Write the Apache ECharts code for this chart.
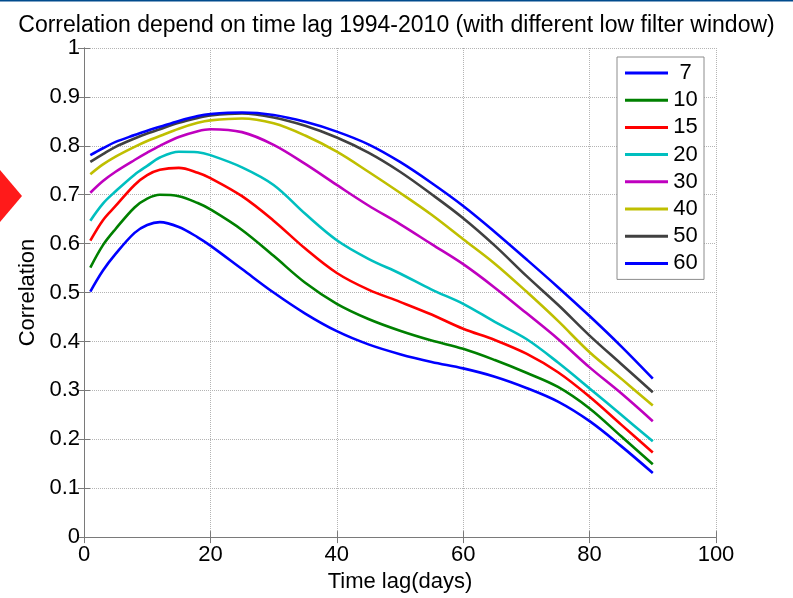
<!DOCTYPE html>
<html>
<head>
<meta charset="utf-8">
<script src="https://cdn.jsdelivr.net/npm/echarts@6/dist/echarts.min.js"></script>
<style>
  html, body { margin: 0; padding: 0; background: #fff; }
  #chart { width: 793px; height: 598px; }
</style>
</head>
<body>
<div id="chart"></div>
<script>
// Time lag in days (x positions of the sampled points)
const lags = [1, 3, 5, 8, 10, 12, 15, 18, 20, 25, 30, 35, 40, 45, 50, 55, 60, 65, 70, 75, 80, 85, 90];

// Correlation for each low-pass filter window
const win7  = [0.502, 0.545, 0.579, 0.622, 0.638, 0.644, 0.634, 0.613, 0.596, 0.548, 0.500, 0.457, 0.421, 0.394, 0.374, 0.358, 0.345, 0.328, 0.305, 0.277, 0.237, 0.186, 0.131];
const win10 = [0.551, 0.597, 0.630, 0.674, 0.692, 0.700, 0.697, 0.683, 0.670, 0.628, 0.575, 0.520, 0.477, 0.446, 0.422, 0.402, 0.385, 0.362, 0.336, 0.307, 0.263, 0.206, 0.149];
const win15 = [0.606, 0.648, 0.677, 0.720, 0.740, 0.751, 0.755, 0.745, 0.734, 0.697, 0.647, 0.590, 0.540, 0.506, 0.481, 0.455, 0.426, 0.403, 0.375, 0.337, 0.287, 0.230, 0.173];
const win20 = [0.647, 0.682, 0.707, 0.741, 0.759, 0.776, 0.788, 0.787, 0.781, 0.756, 0.720, 0.661, 0.607, 0.569, 0.539, 0.506, 0.477, 0.440, 0.405, 0.357, 0.304, 0.250, 0.196];
const win30 = [0.704, 0.728, 0.747, 0.771, 0.786, 0.800, 0.818, 0.830, 0.834, 0.828, 0.802, 0.763, 0.720, 0.678, 0.640, 0.599, 0.558, 0.510, 0.458, 0.405, 0.347, 0.294, 0.237];
const win40 = [0.742, 0.762, 0.778, 0.798, 0.810, 0.820, 0.835, 0.847, 0.852, 0.856, 0.846, 0.821, 0.788, 0.747, 0.704, 0.659, 0.609, 0.559, 0.502, 0.442, 0.378, 0.324, 0.269];
const win50 = [0.767, 0.783, 0.798, 0.815, 0.825, 0.834, 0.847, 0.857, 0.862, 0.866, 0.858, 0.841, 0.817, 0.786, 0.747, 0.701, 0.652, 0.596, 0.534, 0.475, 0.412, 0.354, 0.296];
const win60 = [0.781, 0.795, 0.808, 0.822, 0.831, 0.839, 0.851, 0.861, 0.865, 0.868, 0.863, 0.849, 0.829, 0.803, 0.767, 0.724, 0.677, 0.624, 0.568, 0.511, 0.452, 0.390, 0.324];

const seriesNames = ['7', '10', '15', '20', '30', '40', '50', '60'];
const seriesValues = [win7, win10, win15, win20, win30, win40, win50, win60];
const seriesColors = ['#0000ff', '#008000', '#ff0000', '#00bfbf', '#bf00bf', '#bfbf00', '#404040', '#0000ff'];

const FONT = 'Liberation Sans, Arial, Helvetica, sans-serif';
const frameColor = '#7a7a7a';
const gridColor = '#b4b4b4';

const chart = echarts.init(document.getElementById('chart'), null, { renderer: 'canvas' });

const series = seriesNames.map((name, k) => ({
  name: name,
  type: 'line',
  xAxisIndex: 0,
  yAxisIndex: 0,
  smooth: 0.35,
  symbol: 'none',
  showSymbol: false,
  lineStyle: { color: seriesColors[k], width: 2.6 },
  itemStyle: { color: seriesColors[k] },
  emphasis: { disabled: true },
  data: lags.map((x, i) => [x, seriesValues[k][i]])
}));

const boxAxis = {
  type: 'value',
  min: 0,
  axisLine: { show: true, lineStyle: { color: frameColor, width: 1 } },
  axisTick: { show: true, inside: true, length: 6, lineStyle: { color: frameColor } },
  axisLabel: { show: false },
  splitLine: { show: false }
};

chart.setOption({
  animation: false,
  backgroundColor: '#ffffff',
  title: {
    text: 'Correlation depend on time lag 1994-2010 (with different low filter window)',
    left: 'center',
    top: 9,
    textStyle: { fontFamily: FONT, fontSize: 23, fontWeight: 'normal', color: '#000' }
  },
  grid: { left: 84, top: 48, width: 632, height: 496, containLabel: false },
  legend: {
    orient: 'vertical',
    left: 617,
    top: 57,
    padding: [5, 6, 5, 8],
    itemGap: 5.2,
    itemWidth: 43,
    itemHeight: 3,
    icon: 'rect',
    backgroundColor: '#ffffff',
    borderColor: '#8c8c8c',
    borderWidth: 1,
    borderRadius: 0,
    selectedMode: false,
    data: seriesNames,
    formatter: name => '{t|' + name + '}',
    textStyle: {
      fontFamily: FONT, fontSize: 22, color: '#000',
      rich: { t: { width: 25, align: 'center', fontFamily: FONT, fontSize: 22, lineHeight: 22 } }
    }
  },
  xAxis: [
    {
      type: 'value',
      min: 0, max: 100, interval: 20,
      position: 'bottom',
      name: 'Time lag(days)',
      nameLocation: 'middle',
      nameGap: 30,
      nameTextStyle: { fontFamily: FONT, fontSize: 22, color: '#000' },
      axisLine: { show: true, lineStyle: { color: frameColor, width: 1 } },
      axisTick: { show: true, inside: true, length: 6, lineStyle: { color: frameColor } },
      axisLabel: { fontFamily: FONT, fontSize: 22, color: '#000', margin: 7 },
      splitLine: { show: true, lineStyle: { color: gridColor, type: 'dotted', width: 1 } }
    },
    Object.assign({}, boxAxis, { max: 100, interval: 20, position: 'top' })
  ],
  yAxis: [
    {
      type: 'value',
      min: 0, max: 1, interval: 0.1,
      position: 'left',
      name: 'Correlation',
      nameLocation: 'middle',
      nameGap: 43,
      nameTextStyle: { fontFamily: FONT, fontSize: 22, color: '#000' },
      axisLine: { show: true, lineStyle: { color: frameColor, width: 1 } },
      axisTick: { show: true, inside: true, length: 6, lineStyle: { color: frameColor } },
      axisLabel: {
        fontFamily: FONT, fontSize: 22, color: '#000', margin: 4,
        formatter: v => String(+v.toFixed(1))
      },
      splitLine: { show: true, lineStyle: { color: gridColor, type: 'dotted', width: 1 } }
    },
    Object.assign({}, boxAxis, { max: 1, interval: 0.1, position: 'right' })
  ],
  graphic: [
    {
      type: 'rect',
      shape: { x: 0, y: 0, width: 793, height: 1.5 },
      style: { fill: '#004b8d' },
      silent: true
    },
    {
      type: 'polygon',
      shape: { points: [[0, 170], [22, 196], [0, 222]] },
      style: { fill: '#ff1a1a' },
      silent: true
    }
  ],
  series: series
});
</script>
</body>
</html>
